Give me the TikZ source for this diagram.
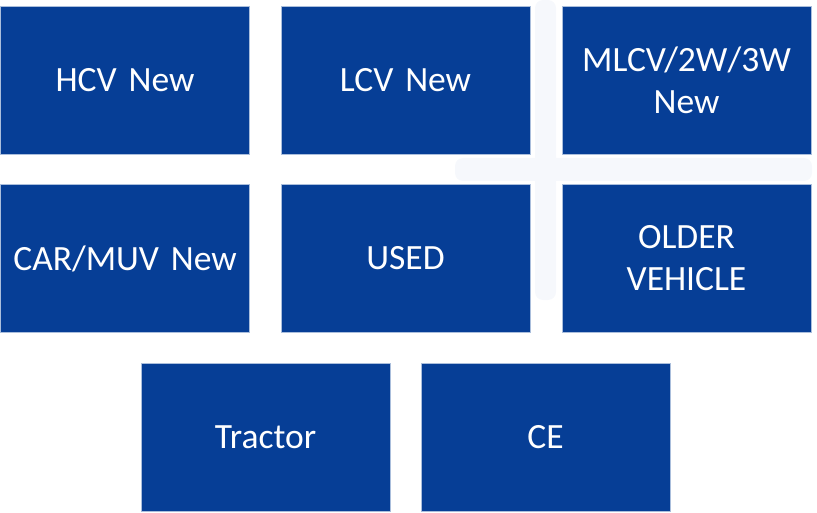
\documentclass[tikz,border=0pt]{standalone}
\usepackage{fontspec}
\setmainfont{Carlito}
\definecolor{tileblue}{RGB}{6,62,150}
\definecolor{tileedge}{RGB}{170,190,220}
\definecolor{haze}{RGB}{246,248,252}
\begin{document}
\begin{tikzpicture}[x=1pt,y=-1pt,
  tile/.style={rectangle, fill=tileblue, draw=tileedge, line width=0.6pt,
    minimum width=249pt, minimum height=148pt, inner sep=0pt,
    text=white, text width=240pt, align=center,
    font=\fontsize{35.5}{42}\selectfont}]
\useasboundingbox (0,0) rectangle (817,513);
% faint cross behind the right-hand tiles
\fill[haze, rounded corners=8pt] (455,158) rectangle (812,181);
\fill[haze, rounded corners=8pt] (535,0) rectangle (556,300);
% first row
\node[tile] (hcv)   at (125,80)    {HCV New};
\node[tile] (lcv)   at (405.5,80)  {LCV New};
\node[tile] (mlcv)  at (686.5,80)  {MLCV/2W/3W\\New};
% second row
\node[tile] (car)   at (125,258.5)   {CAR/MUV New};
\node[tile] (used)  at (405.5,258.5) {USED};
\node[tile] (older) at (686.5,258.5) {OLDER\\VEHICLE};
% third row
\node[tile] (tractor) at (265.5,437) {Tractor};
\node[tile] (ce)      at (545.5,437) {CE};
\end{tikzpicture}
\end{document}
